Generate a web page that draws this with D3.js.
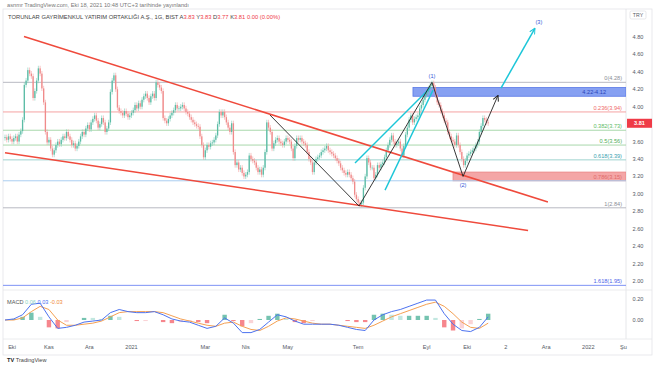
<!DOCTYPE html>
<html>
<head>
<meta charset="utf-8">
<script src="https://cdn.jsdelivr.net/npm/d3@7"></script>
<style>
body{margin:0;background:#fff}
svg{display:block;font-family:"Liberation Sans",Arial,sans-serif}
</style>
</head>
<body>
<script>
// TRGYO daily candles, bar index 0 = 25 Sep 2020, last bar = 18 Oct 2021
var closes = [
  3.65,3.62,3.66,3.63,3.60,3.64,3.66,3.60,3.68,3.72,
  3.85,4.25,4.30,4.42,4.38,4.35,4.10,4.18,4.30,4.44,
  4.38,4.21,4.05,3.71,3.59,3.62,3.52,3.45,3.50,3.56,
  3.60,3.57,3.62,3.66,3.64,3.71,3.66,3.62,3.56,3.58,
  3.52,3.55,3.60,3.66,3.71,3.68,3.75,3.79,3.74,3.82,
  3.86,3.90,3.84,3.76,3.80,3.87,3.82,3.71,3.75,3.82,
  4.17,4.30,4.36,4.20,3.99,3.95,3.93,3.90,3.95,3.92,
  3.88,3.90,3.93,3.96,4.02,3.98,4.04,4.00,4.08,4.12,
  4.15,4.10,4.05,4.12,4.15,4.10,4.28,4.25,4.22,4.18,
  3.87,3.84,3.81,3.86,3.90,3.93,3.96,4.02,3.98,3.98,
  4.00,4.02,3.98,3.94,3.92,3.88,3.85,3.82,3.80,3.78,
  3.77,3.66,3.56,3.42,3.50,3.56,3.54,3.58,3.59,3.62,
  3.67,3.80,3.94,3.90,3.94,3.88,3.82,3.76,3.71,3.81,
  3.48,3.33,3.36,3.28,3.30,3.24,3.20,3.22,3.25,3.44,
  3.40,3.38,3.36,3.30,3.25,3.28,3.22,3.30,3.48,3.82,
  3.76,3.71,3.52,3.58,3.62,3.64,3.60,3.58,3.56,3.60,
  3.64,3.62,3.60,3.52,3.41,3.55,3.64,3.62,3.64,3.60,
  3.58,3.56,3.48,3.40,3.36,3.25,3.36,3.40,3.42,3.44,
  3.48,3.50,3.52,3.55,3.50,3.48,3.46,3.44,3.41,3.38,
  3.35,3.30,3.27,3.24,3.22,3.25,3.22,3.18,3.14,2.99,
  2.94,2.90,2.88,2.90,3.07,3.20,3.41,3.36,3.30,3.30,
  3.18,3.22,3.33,3.30,3.34,3.36,3.42,3.50,3.56,3.62,
  3.67,3.60,3.56,3.58,3.60,3.52,3.44,3.55,3.68,3.76,
  3.85,3.90,3.82,3.86,3.88,3.90,3.98,4.02,4.08,4.13,
  4.17,4.21,4.24,4.27,4.22,4.13,4.05,4.02,3.95,3.90,
  3.84,3.82,3.71,3.66,3.62,3.60,3.56,3.67,3.56,3.48,
  3.40,3.33,3.38,3.44,3.46,3.48,3.50,3.52,3.56,3.60,
  3.71,3.78,3.87,3.85,3.82,3.81
];
var firstOpen = 3.64;

// MACD pane, one reading every 5 bars
var macdStep = 5;
var macdLine = [0.00,0.01,0.05,0.15,0.16,0.03,-0.08,-0.07,-0.05,-0.02,
  -0.01,0.00,0.07,0.10,0.08,0.07,0.07,0.08,0.05,0.01,
  -0.01,-0.02,-0.05,-0.08,-0.06,0.02,-0.03,-0.12,-0.12,-0.09,
  -0.02,0.05,0.03,-0.01,-0.04,-0.04,-0.04,-0.04,-0.05,-0.07,
  -0.09,-0.10,0.00,0.05,0.08,0.10,0.13,0.16,0.19,0.19,
  0.06,-0.04,-0.10,-0.11,-0.07,0.03];
var signalLine = [0.00,0.00,0.02,0.08,0.13,0.10,0.00,-0.05,-0.05,-0.04,
  -0.03,-0.01,0.03,0.07,0.08,0.08,0.08,0.08,0.07,0.04,
  0.01,-0.01,-0.03,-0.05,-0.06,-0.03,-0.02,-0.06,-0.09,-0.10,
  -0.06,-0.01,0.02,0.01,-0.01,-0.03,-0.04,-0.04,-0.05,-0.06,
  -0.07,-0.08,-0.05,-0.01,0.03,0.06,0.09,0.12,0.15,0.17,
  0.13,0.06,-0.02,-0.07,-0.08,-0.03];

// fibonacci retracement
var fibLevels = ["0","0.236","0.382","0.5","0.618","0.786","1","1.618"];
var fibPrices = [4.28,3.94,3.73,3.56,3.39,3.15,2.84,1.95];
var fibColors = ["#b8bac2","#f5a3a3","#a8d8ab","#a8d8ab","#9fd3cf","#a9cdf0","#b8bac2","#7f93f5"];
var fibText   = ["#8a8d96","#ef6a6a","#5dbb64","#4fae58","#3a9fb0","#e06a6a","#8a8d96","#4a63e8"];

// drawings: [bar index, price]
var upperTrend = [[10.8,4.807],[309,2.906]];
var lowerTrend = [[0,3.472],[297.7,2.58]];
var zigzag = [[150.8,3.905],[201.5,2.86],[243,4.28],[260.7,3.20],[280.6,4.13]];
var cyanA = [[199.2,3.353],[241.9,4.214]];
var cyanB = [[216.3,3.043],[243.6,4.19]];
var cyanArrow = [[282.3,4.214],[301.6,4.90]];
var waveLabels = ["(1)","(2)","(3)"];
var wavePoints = [[243,4.28],[260.7,3.20],[301.6,4.90]];
var blueZone = {from:232.2, lo:4.12, hi:4.22, text:"4.22-4.12"};
var redZone = {from:255, lo:3.15, hi:3.25};

// axis
var priceTicks = [4.8,4.6,4.4,4.2,4.0,3.8,3.6,3.4,3.2,3.0,2.8,2.6,2.4,2.2,2.0];
var macdTicks = [0.2,0.0];
var timeTickIdx = [4,25,48,72,114,137,161,201,240,263,285,308,332,352];
var timeTickLabels = ["Eki","Kas","Ara","2021","Mar","Nis","May","Tem","Eyl","Eki","2","Ara","2022","Şu"];

var W = 654, H = 366;
var paneL = 3, paneR = 626, mainTop = 9, mainBot = 290, macdBot = 339;

var svg = d3.select("body").append("svg").attr("width",W).attr("height",H);

var x = d3.scaleLinear().domain([0,100]).range([5,180.7]);
var y = d3.scaleLinear().domain([2.0,4.8]).range([281,37]);
var ym = d3.scaleLinear().domain([0,0.2]).range([320,299]);

svg.append("clipPath").attr("id","mainclip").append("rect")
  .attr("x",paneL).attr("y",mainTop).attr("width",paneR-paneL).attr("height",mainBot-mainTop);
svg.append("clipPath").attr("id","macdclip").append("rect")
  .attr("x",paneL).attr("y",mainBot).attr("width",paneR-paneL).attr("height",macdBot-mainBot);

var defs = svg.append("defs");
function arrowMarker(id,color){
  defs.append("marker").attr("id",id).attr("viewBox","0 0 10 10")
    .attr("refX",9).attr("refY",5).attr("markerWidth",7).attr("markerHeight",7)
    .attr("markerUnits","userSpaceOnUse").attr("orient","auto")
    .append("path").attr("d","M1,1 L9,5 L1,9").attr("fill","none")
    .attr("stroke",color).attr("stroke-width",1.4);
}
arrowMarker("arBlack","#222");
arrowMarker("arCyan","#1cc6d8");

// frame
svg.append("rect").attr("x",paneL).attr("y",mainTop).attr("width",W-paneL-2).attr("height",355-mainTop)
  .attr("fill","none").attr("stroke","#e3e4e8").attr("stroke-width",0.8);
svg.append("line").attr("x1",paneR).attr("x2",paneR).attr("y1",mainTop).attr("y2",macdBot)
  .attr("stroke","#e0e1e5").attr("stroke-width",0.8);
svg.append("line").attr("x1",paneL).attr("x2",W-2).attr("y1",mainBot).attr("y2",mainBot)
  .attr("stroke","#e6e7ea").attr("stroke-width",0.8);
svg.append("line").attr("x1",paneL).attr("x2",W-2).attr("y1",macdBot).attr("y2",macdBot)
  .attr("stroke","#e6e7ea").attr("stroke-width",0.8);

var main = svg.append("g").attr("clip-path","url(#mainclip)");
var line = d3.line().x(function(d){return x(d[0]);}).y(function(d){return y(d[1]);});

// zones
main.append("rect").attr("x",x(blueZone.from)).attr("y",y(blueZone.hi))
  .attr("width",paneR-x(blueZone.from)).attr("height",y(blueZone.lo)-y(blueZone.hi))
  .attr("fill","#86a0f2").attr("stroke","#5877e6").attr("stroke-width",0.8);
main.append("rect").attr("x",x(redZone.from)).attr("y",y(redZone.hi))
  .attr("width",paneR-x(redZone.from)).attr("height",y(redZone.lo)-y(redZone.hi))
  .attr("fill","#f4a6a6").attr("stroke","#e98585").attr("stroke-width",0.8);

// fib lines
main.selectAll(".fib").data(fibPrices).enter().append("line")
  .attr("x1",paneL).attr("x2",paneR)
  .attr("y1",function(d){return y(d);}).attr("y2",function(d){return y(d);})
  .attr("stroke",function(d,i){return fibColors[i];}).attr("stroke-width",1);
main.selectAll(".fibtxt").data(fibPrices).enter().append("text")
  .attr("x",paneR-4).attr("y",function(d){return y(d)-2;})
  .attr("text-anchor","end").attr("font-size","5.6px")
  .attr("fill",function(d,i){return fibText[i];})
  .text(function(d,i){return fibLevels[i]+"("+d.toFixed(2)+")";});
main.append("text").attr("x",paneR-20).attr("y",(y(blueZone.hi)+y(blueZone.lo))/2+2)
  .attr("text-anchor","end").attr("font-size","5.6px").attr("fill","#2b45b8").text(blueZone.text);

// candles
var bars = closes.map(function(c,i){
  var o = i ? closes[i-1] : firstOpen;
  return {i:i, o:o, c:c};
});
var wick = 0.03; // wick length drawn beyond the body
var cg = main.append("g");
cg.selectAll(".wick").data(bars).enter().append("line")
  .attr("x1",function(d){return x(d.i);}).attr("x2",function(d){return x(d.i);})
  .attr("y1",function(d){return y(Math.max(d.o,d.c)+wick);})
  .attr("y2",function(d){return y(Math.min(d.o,d.c)-wick);})
  .attr("stroke",function(d){return d.c>=d.o?"#7ccdb8":"#f4a0a0";}).attr("stroke-width",0.6);
cg.selectAll(".body").data(bars).enter().append("rect")
  .attr("x",function(d){return x(d.i)-0.65;}).attr("width",1.3)
  .attr("y",function(d){return y(Math.max(d.o,d.c));})
  .attr("height",function(d){return Math.max(0.6,Math.abs(y(d.o)-y(d.c)));})
  .attr("fill",function(d){return d.c>=d.o?"#5cbca6":"#f08b8b";});

// trend lines
[upperTrend,lowerTrend].forEach(function(t){
  main.append("path").attr("d",line(t)).attr("fill","none")
    .attr("stroke","#ef4a3c").attr("stroke-width",1.6);
});
[cyanA,cyanB].forEach(function(t){
  main.append("path").attr("d",line(t)).attr("fill","none")
    .attr("stroke","#1cc6d8").attr("stroke-width",1.4);
});
main.append("path").attr("d",line(cyanArrow)).attr("fill","none")
  .attr("stroke","#1cc6d8").attr("stroke-width",1.5).attr("marker-end","url(#arCyan)");
main.append("path").attr("d",line(zigzag)).attr("fill","none")
  .attr("stroke","#222").attr("stroke-width",0.9).attr("marker-end","url(#arBlack)");

var waveOff = [[0,-4],[0,11],[4,-4]];
main.selectAll(".wave").data(wavePoints).enter().append("text")
  .attr("x",function(d,i){return x(d[0])+waveOff[i][0];})
  .attr("y",function(d,i){return y(d[1])+waveOff[i][1];})
  .attr("text-anchor","middle").attr("font-size","5.6px").attr("fill","#3556d8")
  .text(function(d,i){return waveLabels[i];});

// price axis
svg.selectAll(".ptick").data(priceTicks).enter().append("text")
  .attr("x",638).attr("y",function(d){return y(d)+2;})
  .attr("text-anchor","middle").attr("font-size","5.6px").attr("fill","#555a66")
  .text(function(d){return d.toFixed(2);});
svg.append("rect").attr("x",630).attr("y",11).attr("width",16).attr("height",8).attr("rx",1.5)
  .attr("fill","#fff").attr("stroke","#d6d8de").attr("stroke-width",0.6);
svg.append("text").attr("x",638).attr("y",17).attr("text-anchor","middle")
  .attr("font-size","5.2px").attr("fill","#555a66").text("TRY");
var last = closes[closes.length-1];
svg.append("rect").attr("x",627).attr("y",y(last)-4.5).attr("width",25).attr("height",9)
  .attr("fill","#ef3b47");
svg.append("text").attr("x",639.5).attr("y",y(last)+2).attr("text-anchor","middle")
  .attr("font-size","5.6px").attr("font-weight","bold").attr("fill","#fff").text(last.toFixed(2));

// MACD pane
var mg = svg.append("g").attr("clip-path","url(#macdclip)");
var hist = macdLine.map(function(m,k){return {k:k, v:m-signalLine[k]};});
mg.selectAll(".hist").data(hist).enter().append("rect")
  .attr("x",function(d){return x(d.k*macdStep)-2.2;}).attr("width",4.4)
  .attr("y",function(d){return Math.min(ym(d.v),ym(0));})
  .attr("height",function(d){return Math.abs(ym(d.v)-ym(0));})
  .attr("fill",function(d,k){
    var prev = k ? hist[k-1].v : 0;
    if (d.v>=0) return d.v>=prev ? "#3aa98f" : "#a8ddd3";
    return d.v<prev ? "#f2525c" : "#f8c0c4";
  }).attr("opacity",0.7);
var mline = d3.line().x(function(d,k){return x(k*macdStep);}).y(function(d){return ym(d);});
mg.append("path").attr("d",mline(signalLine)).attr("fill","none").attr("stroke","#f5a052").attr("stroke-width",1);
mg.append("path").attr("d",mline(macdLine)).attr("fill","none").attr("stroke","#4c72f0").attr("stroke-width",1);
svg.selectAll(".mtick").data(macdTicks).enter().append("text")
  .attr("x",638).attr("y",function(d){return ym(d)+2;})
  .attr("text-anchor","middle").attr("font-size","5.6px").attr("fill","#555a66")
  .text(function(d){return d.toFixed(2);});
var ml = svg.append("text").attr("x",7).attr("y",304).attr("font-size","5.6px");
ml.append("tspan").attr("fill","#555").text("MACD ");
ml.append("tspan").attr("fill","#8ad3c4").text(" " + (macdLine[macdLine.length-1]-signalLine[signalLine.length-1]).toFixed(2));
ml.append("tspan").attr("fill","#4c72f0").text("  " + macdLine[macdLine.length-1].toFixed(2));
ml.append("tspan").attr("fill","#f08a3a").text("  " + signalLine[signalLine.length-1].toFixed(2));

// time axis
svg.selectAll(".ttick").data(timeTickIdx).enter().append("text")
  .attr("x",function(d){return x(d);}).attr("y",349)
  .attr("text-anchor","middle").attr("font-size","5.6px").attr("fill","#555a66")
  .text(function(d,i){return timeTickLabels[i];});

// header
svg.append("text").attr("x",7).attr("y",7).attr("font-size","5.7px").attr("fill","#777")
  .text("asnmr TradingView.com, Eki 18, 2021 10:48 UTC+3 tarihinde yayınlandı");
var hd = svg.append("text").attr("x",8).attr("y",18.5).attr("font-size","5.8px").attr("fill","#444");
hd.append("tspan").text("TORUNLAR GAYRİMENKUL YATIRIM ORTAKLIĞI A.Ş., 1G, BIST  A");
hd.append("tspan").attr("fill","#ef3b47").text("3.83");
hd.append("tspan").text(" Y");
hd.append("tspan").attr("fill","#ef3b47").text("3.83");
hd.append("tspan").text(" D");
hd.append("tspan").attr("fill","#ef3b47").text("3.77");
hd.append("tspan").text(" K");
hd.append("tspan").attr("fill","#ef3b47").text("3.81 0.00 (0.00%)");

// footer logo
var ft = svg.append("text").attr("x",7).attr("y",362).attr("font-size","5.6px").attr("fill","#222");
ft.append("tspan").attr("font-weight","bold").text("TV ");
ft.append("tspan").attr("fill","#444").text("TradingView");
</script>
</body>
</html>
